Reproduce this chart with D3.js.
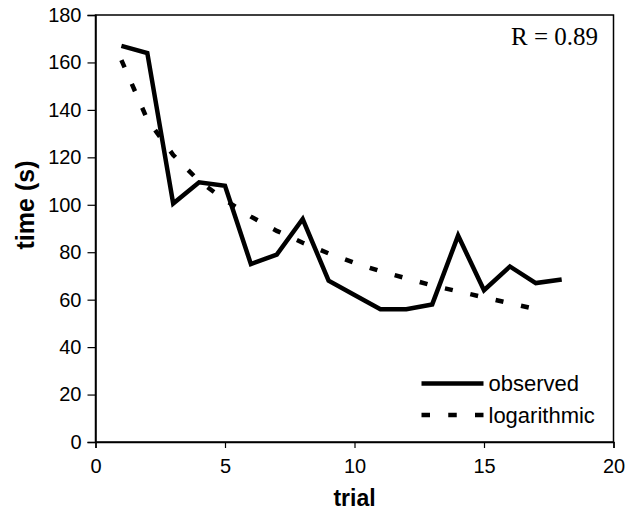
<!DOCTYPE html>
<html>
<head>
<meta charset="utf-8">
<script src="https://cdn.jsdelivr.net/npm/d3@7"></script>
<style>
  body { margin: 0; background: #fff; }
  svg { display: block; font-family: "Liberation Sans", Arial, sans-serif; }
</style>
</head>
<body>
<div id="chart"></div>
<script>
// values
var trials = [1, 2, 3, 4, 5, 6, 7, 8, 9, 10, 11, 12, 13, 14, 15, 16, 17, 18];
var observed = [167, 164, 100.5, 109.5, 108, 75, 79, 94, 68, 62, 56, 56, 58, 87, 64, 74, 67, 68.5];
var logTrials = [1, 2, 3, 4, 5, 6, 7, 8, 9, 10, 11, 12, 13, 14, 15, 16, 17];
var logarithmic = [161, 136, 121, 110, 102, 95, 89, 84, 79.5, 75.5, 72, 69, 66, 63.5, 61, 58.5, 56];
var xTicks = [0, 5, 10, 15, 20];
var yTicks = [0, 20, 40, 60, 80, 100, 120, 140, 160, 180];
var seriesNames = ['observed', 'logarithmic'];

var W = 641, H = 512;
var margin = {top: 15, right: 27.5, bottom: 70, left: 95.5};
var w = W - margin.left - margin.right,
    h = H - margin.top - margin.bottom;

var svg = d3.select('#chart').append('svg')
  .attr('width', W)
  .attr('height', H);

var g = svg.append('g')
  .attr('transform', 'translate(' + margin.left + ',' + margin.top + ')');

var x = d3.scaleLinear().domain([0, 20]).range([0, w]);
var y = d3.scaleLinear().domain([0, 180]).range([h, 0]);

// frame
g.append('rect')
  .attr('width', w)
  .attr('height', h)
  .attr('fill', 'none')
  .attr('stroke', '#000')
  .attr('stroke-width', 1.5);

// axes
var xAxis = g.append('g')
  .attr('transform', 'translate(0,' + h + ')')
  .call(d3.axisBottom(x).tickValues(xTicks).tickSize(6).tickFormat(d3.format('d')));

xAxis.selectAll('text')
  .attr('y', 31)
  .attr('dy', 0)
  .style('font-size', '20px')
  .attr('fill', '#000');

var yAxis = g.append('g')
  .call(d3.axisLeft(y).tickValues(yTicks).tickSize(8).tickPadding(6));

yAxis.selectAll('text')
  .style('font-size', '20px')
  .attr('fill', '#000');

g.selectAll('.domain').attr('stroke-width', 1.5);
g.selectAll('.tick line').attr('stroke-width', 1.2);

// titles
svg.append('text')
  .attr('x', margin.left + w / 2)
  .attr('y', 506)
  .attr('text-anchor', 'middle')
  .style('font-size', '23px')
  .style('font-weight', 'bold')
  .text('trial');

svg.append('text')
  .attr('transform', 'translate(34,205) rotate(-90)')
  .attr('text-anchor', 'middle')
  .style('font-size', '25px')
  .style('font-weight', 'bold')
  .text('time (s)');

// lines
var obsLine = d3.line()
  .x(function(d, i) { return x(trials[i]); })
  .y(function(d) { return y(d); });

var logLine = d3.line()
  .x(function(d, i) { return x(logTrials[i]); })
  .y(function(d) { return y(d); });

g.append('path')
  .datum(logarithmic)
  .attr('d', logLine)
  .attr('fill', 'none')
  .attr('stroke', '#000')
  .attr('stroke-width', 4.5)
  .attr('stroke-dasharray', '8,18');

g.append('path')
  .datum(observed)
  .attr('d', obsLine)
  .attr('fill', 'none')
  .attr('stroke', '#000')
  .attr('stroke-width', 4.5)
  .attr('stroke-linejoin', 'miter');

// R label
svg.append('text')
  .attr('x', 598)
  .attr('y', 45)
  .attr('text-anchor', 'end')
  .style('font-family', '"Liberation Serif", "Times New Roman", serif')
  .style('font-size', '25px')
  .text('R = 0.89');

// legend
var legend = svg.append('g')
  .attr('transform', 'translate(421.5,383.5)');

var item = legend.selectAll('g')
  .data(seriesNames)
  .enter().append('g')
  .attr('transform', function(d, i) { return 'translate(0,' + (i * 31.5) + ')'; });

item.append('line')
  .attr('x1', 0)
  .attr('x2', 62)
  .attr('stroke', '#000')
  .attr('stroke-width', 4.5)
  .attr('stroke-dasharray', function(d, i) { return i === 1 ? '8.5,18.25' : null; });

item.append('text')
  .attr('x', 67)
  .attr('y', 7.5)
  .style('font-size', '22px')
  .text(function(d) { return d; });
</script>
</body>
</html>
